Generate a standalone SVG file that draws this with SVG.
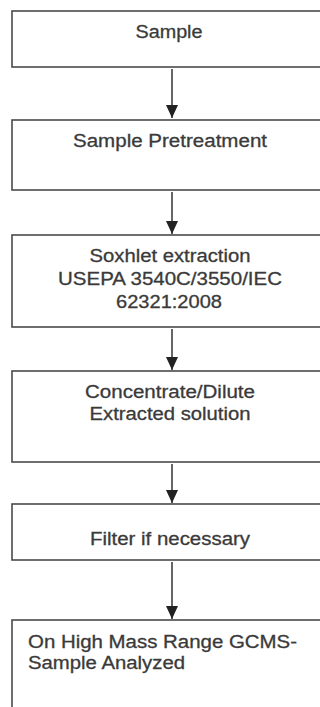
<svg xmlns="http://www.w3.org/2000/svg" width="320" height="707" viewBox="0 0 320 707">
  <style>
    .box { fill: #ffffff; stroke: #4a4a4a; stroke-width: 1.6; }
    .lbl { font-family: "Liberation Sans", Arial, sans-serif; font-size: 18px; fill: #3a3a3a; stroke: #3a3a3a; stroke-width: 0.3; }
    .mid { text-anchor: middle; }
    .link { stroke: #333333; stroke-width: 1.5; fill: none; marker-end: url(#head); }
  </style>
  <defs>
    <!-- filled arrowhead, tip sits on the end of the line -->
    <marker id="head" markerUnits="userSpaceOnUse" markerWidth="13" markerHeight="12" refX="13" refY="6" orient="auto" viewBox="0 0 13 12">
      <path d="M0,0 L13,6 L0,12 Z" fill="#222222"/>
    </marker>
  </defs>
  <rect width="320" height="707" fill="#ffffff"/>

  <g id="connectors">
    <line class="link" x1="172" y1="69" x2="172" y2="118"/>
    <line class="link" x1="172" y1="192" x2="172" y2="234"/>
    <line class="link" x1="172" y1="329" x2="172" y2="370"/>
    <line class="link" x1="172" y1="464" x2="172" y2="503"/>
    <line class="link" x1="172" y1="562" x2="172" y2="619"/>
  </g>

  <g id="sample">
    <rect class="box" x="12" y="11" width="330" height="56"/>
    <text class="lbl mid" x="169" y="38" textLength="67" lengthAdjust="spacingAndGlyphs">Sample</text>
  </g>

  <g id="pretreatment">
    <rect class="box" x="12" y="120" width="330" height="70"/>
    <text class="lbl mid" x="170" y="147" textLength="194" lengthAdjust="spacingAndGlyphs">Sample Pretreatment</text>
  </g>

  <g id="soxhlet">
    <rect class="box" x="12" y="235" width="330" height="92"/>
    <text class="lbl mid" x="170" y="262" textLength="161" lengthAdjust="spacingAndGlyphs">Soxhlet extraction</text>
    <text class="lbl mid" x="170" y="285" textLength="224" lengthAdjust="spacingAndGlyphs">USEPA 3540C/3550/IEC</text>
    <text class="lbl mid" x="169" y="308" textLength="106" lengthAdjust="spacingAndGlyphs">62321:2008</text>
  </g>

  <g id="concentrate">
    <rect class="box" x="12" y="371" width="330" height="91"/>
    <text class="lbl mid" x="170" y="398" textLength="170" lengthAdjust="spacingAndGlyphs">Concentrate/Dilute</text>
    <text class="lbl mid" x="170" y="420" textLength="161" lengthAdjust="spacingAndGlyphs">Extracted solution</text>
  </g>

  <g id="filter">
    <rect class="box" x="12" y="504" width="330" height="56"/>
    <text class="lbl mid" x="170" y="545" textLength="160" lengthAdjust="spacingAndGlyphs">Filter if necessary</text>
  </g>

  <g id="analysis">
    <rect class="box" x="12" y="620" width="330" height="110"/>
    <text class="lbl" x="28" y="648" textLength="269" lengthAdjust="spacingAndGlyphs">On High Mass Range GCMS-</text>
    <text class="lbl" x="28" y="669" textLength="157" lengthAdjust="spacingAndGlyphs">Sample Analyzed</text>
  </g>
</svg>
